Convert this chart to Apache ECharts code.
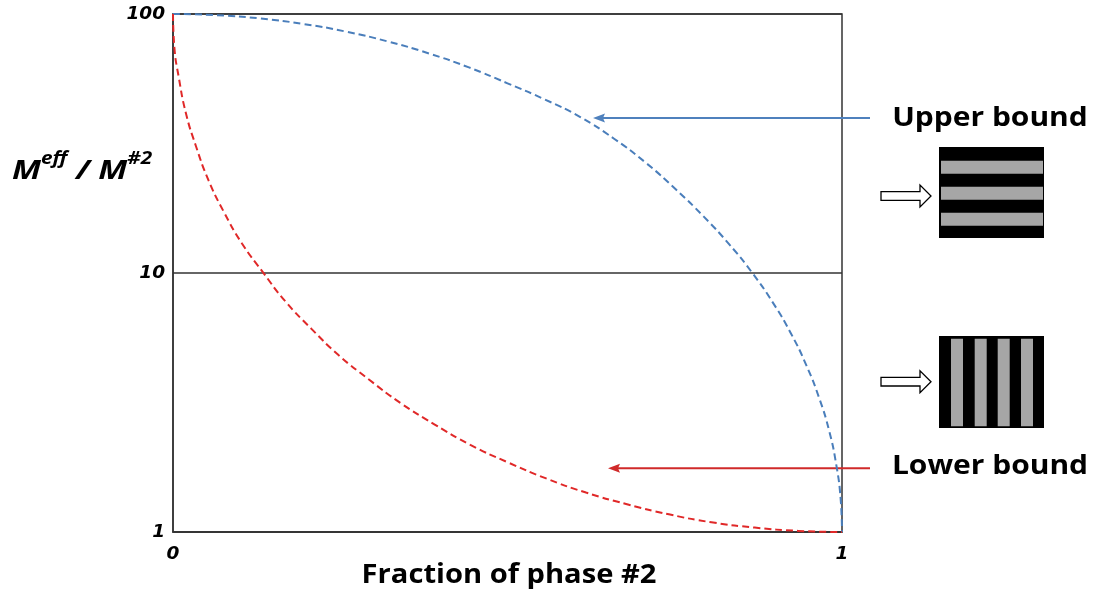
<!DOCTYPE html>
<html>
<head>
<meta charset="utf-8">
<script src="https://cdn.jsdelivr.net/npm/echarts@6/dist/echarts.min.js"></script>
<style>
html,body{margin:0;padding:0;background:#fff;}
#chart{width:1097px;height:594px;}
</style>
</head>
<body>
<div id="chart"></div>
<script>
// Fraction of phase #2 (x) and Meff/M#2 (y)
const upperX = [0, 0.0654, 0.1305, 0.1951, 0.2588, 0.3214, 0.3827, 0.4423, 0.5, 0.5556, 0.6088, 0.6593, 0.7071,
  0.7518, 0.7934, 0.8315, 0.866, 0.8969, 0.9239, 0.9469, 0.9659, 0.9808, 0.9914, 0.9979, 1];
const upperY = [100, 99.0, 96.1, 91.5, 85.5, 78.3, 70.4, 62.2, 54.0, 46.8, 40.0, 33.0, 26.6,
  21.0, 16.5, 12.9, 10.0, 7.67, 5.83, 4.39, 3.29, 2.46, 1.82, 1.35, 1];
const lowerX = [0, 0.0021, 0.0086, 0.0192, 0.0341, 0.0531, 0.0761, 0.1031, 0.134, 0.1685, 0.2066, 0.2482, 0.2929,
  0.3407, 0.3912, 0.4444, 0.5, 0.5577, 0.6173, 0.6786, 0.7412, 0.8049, 0.8695, 0.9346, 1];
const lowerY = [100, 74, 57, 41.5, 31, 22.8, 17.2, 13.0, 10.1, 7.74, 6.1, 4.8, 3.88,
  3.14, 2.6, 2.17, 1.86, 1.61, 1.42, 1.28, 1.17, 1.09, 1.04, 1.01, 1];
const xTicks = [0, 1];
const yTicks = [1, 10, 100];
const labels = { upper: 'Upper bound', lower: 'Lower bound', xName: 'Fraction of phase #2' };

const chart = echarts.init(document.getElementById('chart'), null, { renderer: 'canvas' });
const labelFont = { fontFamily: 'DejaVu Sans', fontStyle: 'italic', fontWeight: 'bold', fontSize: 18.5, color: '#000' };

function zip(xs, ys) { return xs.map((x, i) => [x, ys[i]]); }

const graphics = [];
// Upper block: horizontal stripes
graphics.push({ type: 'rect', shape: { x: 939, y: 147, width: 105, height: 91 }, style: { fill: '#000' } });
for (let i = 0; i < 3; i++) {
  graphics.push({ type: 'rect', shape: { x: 941, y: 160.7 + i * 26, width: 102, height: 13 }, style: { fill: '#a6a6a6' } });
}
// Lower block: vertical stripes
graphics.push({ type: 'rect', shape: { x: 939, y: 336, width: 105, height: 92 }, style: { fill: '#000' } });
[951, 974.7, 997.7, 1021].forEach(x => {
  graphics.push({ type: 'rect', shape: { x: x, y: 338.7, width: 12, height: 87.5 }, style: { fill: '#a6a6a6' } });
});
// Hollow arrows
function hollowArrow(cy) {
  return { type: 'polygon', shape: { points: [[881, cy - 4.3], [920, cy - 4.3], [920, cy - 11], [931, cy], [920, cy + 11], [920, cy + 4.3], [881, cy + 4.3]] },
    style: { fill: '#fff', stroke: '#000', lineWidth: 1.3 } };
}
graphics.push(hollowArrow(196));
graphics.push(hollowArrow(381.7));
// Pointer arrows
graphics.push({ type: 'line', shape: { x1: 870, y1: 118, x2: 600, y2: 118 }, style: { stroke: '#4f81bd', lineWidth: 2 } });
graphics.push({ type: 'polygon', shape: { points: [[593, 118], [605, 113.5], [603, 118], [605, 122.5]] }, style: { fill: '#4f81bd' } });
graphics.push({ type: 'line', shape: { x1: 870, y1: 468.3, x2: 615, y2: 468.3 }, style: { stroke: '#d02a2a', lineWidth: 2 } });
graphics.push({ type: 'polygon', shape: { points: [[608, 468.3], [620, 463.8], [618, 468.3], [620, 472.8]] }, style: { fill: '#d02a2a' } });
// Texts
graphics.push({ type: 'text', x: 990, y: 118, scaleX: 1.11, style: { text: labels.upper, fontFamily: 'Open Sans', fontWeight: 'bold', fontSize: 27, fill: '#000', textAlign: 'center', textVerticalAlign: 'middle' } });
graphics.push({ type: 'text', x: 990, y: 466, scaleX: 1.11, style: { text: labels.lower, fontFamily: 'Open Sans', fontWeight: 'bold', fontSize: 27, fill: '#000', textAlign: 'center', textVerticalAlign: 'middle' } });
graphics.push({ type: 'text', x: 509, y: 576, scaleX: 1.12, style: { text: labels.xName, fontFamily: 'Open Sans', fontWeight: 'bold', fontSize: 26, fill: '#000', textAlign: 'center', textVerticalAlign: 'middle' } });
graphics.push({ type: 'text', x: 12, y: 168, scaleX: 1.22, style: {
  text: '{m|M}{s|eff}{m| / M}{s|#2}', textVerticalAlign: 'middle',
  rich: {
    m: { fontFamily: 'Open Sans', fontStyle: 'italic', fontWeight: 'bold', fontSize: 27, fill: '#000', lineHeight: 34, verticalAlign: 'bottom' },
    s: { fontFamily: 'Open Sans', fontStyle: 'italic', fontWeight: 'bold', fontSize: 17, fill: '#000', lineHeight: 34, verticalAlign: 'top' }
  } } });

chart.setOption({
  animation: false,
  backgroundColor: '#fff',
  grid: { left: 173, right: 255, top: 14, bottom: 62, show: true, borderColor: '#333', borderWidth: 1.5, backgroundColor: 'transparent' },
  xAxis: {
    type: 'value', min: 0, max: 1, interval: 1,
    axisLine: { show: true, lineStyle: { color: '#333', width: 1.5 } },
    axisTick: { show: false },
    splitLine: { show: false },
    axisLabel: Object.assign({ margin: 13, formatter: v => xTicks.includes(v) ? String(v) : '' }, labelFont)
  },
  yAxis: {
    type: 'log', logBase: 10, min: 1, max: 100,
    axisLine: { show: true, lineStyle: { color: '#333', width: 1.5 } },
    axisTick: { show: false },
    splitLine: { show: true, lineStyle: { color: '#333', width: 1.5 } },
    axisLabel: Object.assign({ margin: 8, formatter: v => yTicks.includes(Math.round(v)) ? String(Math.round(v)) : '' }, labelFont)
  },
  series: [
    { name: labels.upper, type: 'line', data: zip(upperX, upperY), smooth: 0.5, showSymbol: false, symbol: 'none', clip: false,
      lineStyle: { color: '#4a7ebb', width: 2, type: [7, 4] } },
    { name: labels.lower, type: 'line', data: zip(lowerX, lowerY), smooth: 0.5, showSymbol: false, symbol: 'none', clip: false,
      lineStyle: { color: '#e02828', width: 2, type: [7, 4] } }
  ],
  graphic: graphics
});
</script>
</body>
</html>
